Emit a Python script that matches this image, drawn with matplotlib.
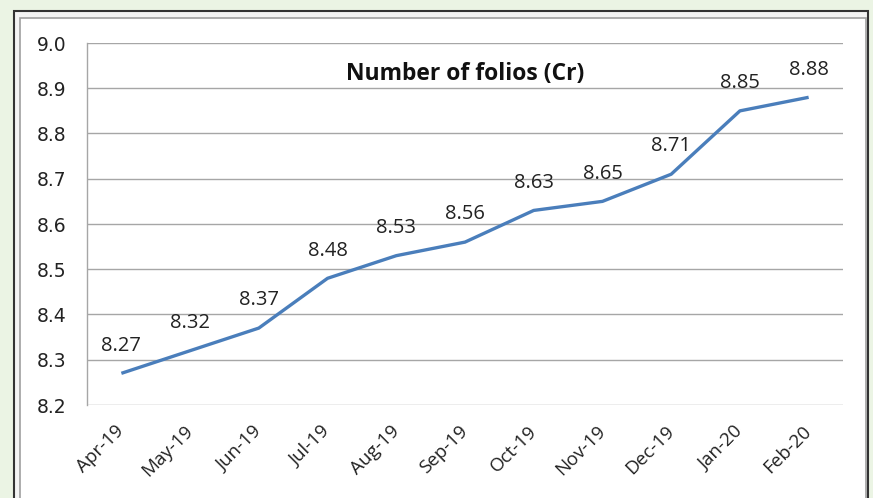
import matplotlib
matplotlib.use("Agg")
import matplotlib.pyplot as plt
from matplotlib.patches import Rectangle
import numpy as np

months = ["Apr-19", "May-19", "Jun-19", "Jul-19", "Aug-19", "Sep-19",
          "Oct-19", "Nov-19", "Dec-19", "Jan-20", "Feb-20"]
folios = [8.27, 8.32, 8.37, 8.48, 8.53, 8.56, 8.63, 8.65, 8.71, 8.85, 8.88]
yticks = [8.2, 8.3, 8.4, 8.5, 8.6, 8.7, 8.8, 8.9, 9.0]
title = "Number of folios (Cr)"

W, H = 873, 498
fig = plt.figure(figsize=(W / 100, H / 100), dpi=100)
fig.patch.set_facecolor("#ebf4e4")

# white chart frame
bg = fig.add_axes([0, 0, 1, 1])
bg.set_xlim(0, W)
bg.set_ylim(H, 0)
bg.axis("off")
bg.add_patch(Rectangle((14, 11), 854, 520, facecolor="#f4f4f4", edgecolor="#333333", lw=1.5))
bg.add_patch(Rectangle((20, 18), 846, 520, facecolor="white", edgecolor="#a0a0a0", lw=1.2))

left, right, top, bottom = 87, 843, 43, 405
ax = fig.add_axes([left / W, 1 - bottom / H, (right - left) / W, (bottom - top) / H])
ax.set_facecolor("none")

x = np.arange(len(months))
ax.plot(x, folios, color="#4a7ebb", lw=2.4, solid_capstyle="butt", zorder=3)

ax.set_xlim(-0.5, len(months) - 0.5)
ax.set_ylim(8.2, 9.0)
ax.set_yticks(yticks)
ax.set_yticklabels([f"{v:.1f}" for v in yticks], fontsize=13.5, family="DejaVu Sans", color="#222222")
ax.yaxis.grid(True, color="#a6a6a6", lw=1.0)
ax.set_axisbelow(True)
ax.tick_params(axis="y", length=0, pad=15)
ax.tick_params(axis="x", length=0, pad=17)
ax.set_xticks(x)
ax.set_xticklabels(months, rotation=45, ha="right", va="center", rotation_mode="anchor",
                   fontsize=13.5, family="Open Sans", color="#222222")

for s in ["top", "right", "bottom"]:
    ax.spines[s].set_visible(False)
ax.spines["left"].set_color("#a6a6a6")
ax.spines["left"].set_linewidth(1.0)

for xi, v in zip(x, folios):
    ax.annotate(f"{v:.2f}", (xi, v), xytext=(0, 20), textcoords="offset points",
                ha="center", va="center", fontsize=14.5, family="Open Sans", color="#222222")

fig.text(465 / W, 1 - 74 / H, title, ha="center", va="center",
         fontsize=16.5, fontweight="bold", family="Open Sans", color="#111111")

fig.savefig("out.png", dpi=100)
